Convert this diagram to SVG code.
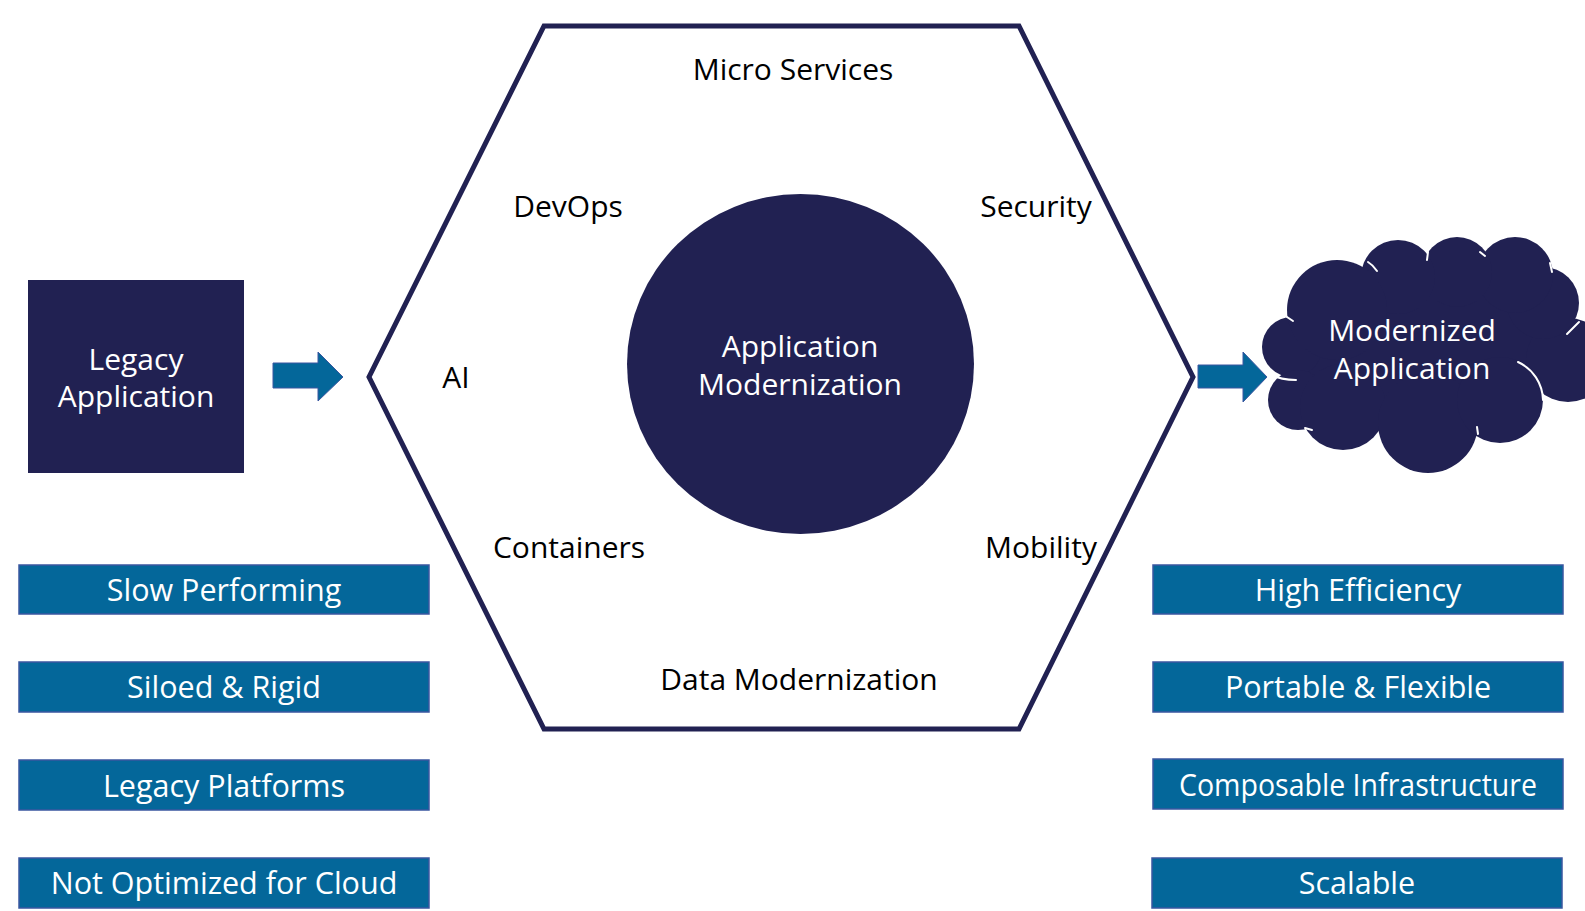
<svg xmlns="http://www.w3.org/2000/svg" width="1585" height="911" viewBox="0 0 1585 911">
<style>
  .navy{fill:#212152}
  .lbl{font-family:"Open Sans","Noto Sans","Liberation Sans",sans-serif;font-size:30px;fill:#000;text-anchor:middle}
  .wt{font-family:"Open Sans","Noto Sans","Liberation Sans",sans-serif;font-size:30px;fill:#fff;text-anchor:middle}
  .box{fill:#04679A;stroke:#3A57A0;stroke-width:1.5}
  .bt{font-family:"Open Sans","Noto Sans","Liberation Sans",sans-serif;font-size:30.5px;fill:#fff;text-anchor:middle}
  .arrow{fill:#04679A;stroke:#3A57A0;stroke-width:1}
  .tick{fill:none;stroke:#fff;stroke-width:2;stroke-linecap:round}
</style>
<rect width="1585" height="911" fill="#fff"/>

<g id="hexagon">
  <polygon points="544,26 1019,26 1193,377 1019,729 544,729 369,377" fill="none" stroke="#212152" stroke-width="5" stroke-linejoin="miter"/>
  <text class="lbl" x="793" y="80">Micro Services</text>
  <text class="lbl" x="568" y="217">DevOps</text>
  <text class="lbl" x="1036" y="217">Security</text>
  <text class="lbl" x="456" y="388">AI</text>
  <text class="lbl" x="569" y="558">Containers</text>
  <text class="lbl" x="1041" y="558">Mobility</text>
  <text class="lbl" x="799" y="690">Data Modernization</text>
</g>

<g id="core">
  <ellipse cx="800.5" cy="364" rx="173.5" ry="170" class="navy"/>
  <text class="wt" x="800" y="357">Application</text>
  <text class="wt" x="800" y="395">Modernization</text>
</g>

<g id="legacy">
  <rect x="28" y="280" width="216" height="193" class="navy"/>
  <text class="wt" x="136" y="370">Legacy</text>
  <text class="wt" x="136" y="407">Application</text>
</g>

<g id="cloud">
  <g class="navy">
    <polygon points="1292,347 1298,400 1343,407 1428,423 1500,400 1568,360 1543,303 1515,275 1457,272 1398,277 1337,310"/>
    <ellipse cx="1420" cy="345" rx="120" ry="80"/>
    <circle cx="1292" cy="347" r="30"/>
    <circle cx="1298" cy="400" r="30"/>
    <circle cx="1343" cy="407" r="43"/>
    <circle cx="1428" cy="423" r="50"/>
    <circle cx="1500" cy="400" r="43"/>
    <circle cx="1568" cy="360" r="42"/>
    <circle cx="1543" cy="303" r="36"/>
    <circle cx="1515" cy="275" r="38"/>
    <circle cx="1457" cy="272" r="35"/>
    <circle cx="1398" cy="277" r="37"/>
    <circle cx="1337" cy="310" r="50"/>
  </g>
  <path class="tick" d="M1287,317 L1293,321"/>
  <path class="tick" d="M1368,262 Q1373,265 1377,271"/>
  <path class="tick" d="M1428,252 L1427,260"/>
  <path class="tick" d="M1480,252 L1485,256"/>
  <path class="tick" d="M1550,263 L1552,272"/>
  <path class="tick" d="M1567,334 L1579,322"/>
  <path class="tick" d="M1518,362 A43,43 0 0 1 1543,400"/>
  <path class="tick" d="M1477,427 L1478,434"/>
  <path class="tick" d="M1380,442 L1383,450"/>
  <path class="tick" d="M1305,428 L1312,430"/>
  <path class="tick" d="M1270,374 Q1281,380 1296,380"/>
  <text class="wt" x="1412" y="341">Modernized</text>
  <text class="wt" x="1412" y="379">Application</text>
</g>

<g id="connectors">
  <polygon class="arrow" points="273,363 318,363 318,352 343,377 318,401 318,388 273,388"/>
  <polygon class="arrow" points="1198,365 1243,365 1243,352 1267,377 1243,402 1243,388 1198,388"/>
</g>

<g id="legacy-traits">
  <g id="t1"><rect class="box" x="19" y="565" width="410" height="49"/><text class="bt" x="224" y="601">Slow Performing</text></g>
  <g id="t2"><rect class="box" x="19" y="662" width="410" height="50"/><text class="bt" x="224" y="698">Siloed &amp; Rigid</text></g>
  <g id="t3"><rect class="box" x="19" y="760" width="410" height="50"/><text class="bt" x="224" y="797">Legacy Platforms</text></g>
  <g id="t4"><rect class="box" x="19" y="858" width="410" height="50"/><text class="bt" x="224" y="894">Not Optimized for Cloud</text></g>
</g>

<g id="modern-traits">
  <g id="m1"><rect class="box" x="1153" y="565" width="410" height="49"/><text class="bt" x="1358" y="601">High Efficiency</text></g>
  <g id="m2"><rect class="box" x="1153" y="662" width="410" height="50"/><text class="bt" x="1358" y="698">Portable &amp; Flexible</text></g>
  <g id="m3"><rect class="box" x="1153" y="759" width="410" height="50"/><text class="bt" x="1358" y="796" textLength="358" lengthAdjust="spacingAndGlyphs">Composable Infrastructure</text></g>
  <g id="m4"><rect class="box" x="1152" y="858" width="410" height="50"/><text class="bt" x="1357" y="894">Scalable</text></g>
</g>
</svg>
